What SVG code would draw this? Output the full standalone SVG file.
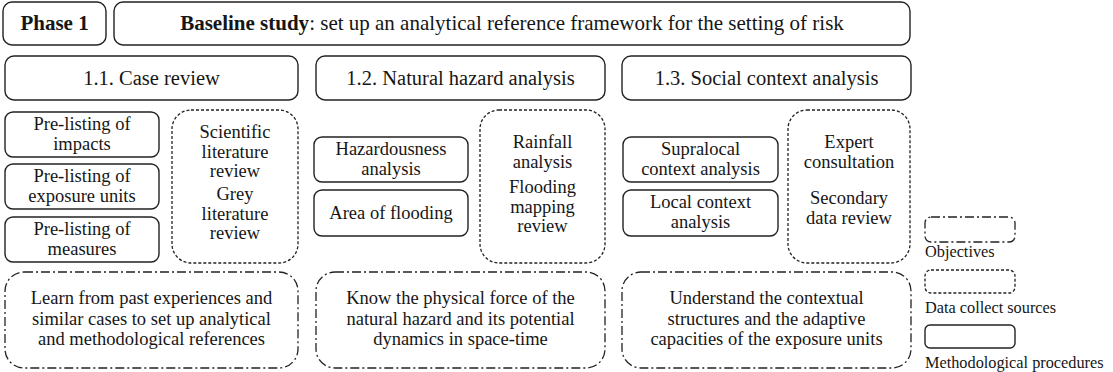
<svg xmlns="http://www.w3.org/2000/svg" width="1113" height="372" viewBox="0 0 1113 372">
  <style>
    .box { fill: #fff; stroke: #222; stroke-width: 1.4; }
    .src { fill: #fff; stroke: #222; stroke-width: 1.3; stroke-dasharray: 3 2; }
    .obj { fill: #fff; stroke: #222; stroke-width: 1.3; stroke-dasharray: 9 3 2 3; }
    text { font-family: "Liberation Serif", "Times New Roman", serif; fill: #161616; }
    .t { font-size: 18.5px; text-anchor: middle; }
    .h { font-size: 20.5px; text-anchor: middle; }
    .ttl { font-size: 21px; text-anchor: middle; }
    .lg { font-size: 16.3px; }
    .b { font-weight: bold; }
  </style>

  <!-- Header row -->
  <g id="phase">
    <rect class="box" x="3" y="2" width="103" height="43" rx="9"/>
    <text class="ttl b" x="54.5" y="30">Phase 1</text>
  </g>
  <g id="baseline">
    <rect class="box" x="114" y="2" width="796" height="43" rx="9"/>
    <text class="ttl" x="512" y="30"><tspan class="b">Baseline study</tspan>: set up an analytical reference framework for the setting of risk</text>
  </g>

  <!-- Sub-phase headings -->
  <g id="case-review">
    <rect class="box" x="5" y="56" width="293" height="44" rx="9"/>
    <text class="h" x="151.5" y="85">1.1. Case review</text>
  </g>
  <g id="hazard-analysis">
    <rect class="box" x="316" y="56" width="289" height="44" rx="9"/>
    <text class="h" x="460.5" y="85">1.2. Natural hazard analysis</text>
  </g>
  <g id="social-analysis">
    <rect class="box" x="622" y="56" width="289" height="44" rx="9"/>
    <text class="h" x="766.5" y="85">1.3. Social context analysis</text>
  </g>

  <!-- 1.1 procedures and sources -->
  <g id="impacts">
    <rect class="box" x="5" y="112" width="154" height="45" rx="8"/>
    <text class="t" x="82" y="130">Pre-listing of</text>
    <text class="t" x="82" y="149.5">impacts</text>
  </g>
  <g id="exposure-units">
    <rect class="box" x="5" y="164" width="154" height="45" rx="8"/>
    <text class="t" x="82" y="182">Pre-listing of</text>
    <text class="t" x="82" y="201.5">exposure units</text>
  </g>
  <g id="measures">
    <rect class="box" x="5" y="217" width="154" height="45" rx="8"/>
    <text class="t" x="82" y="235">Pre-listing of</text>
    <text class="t" x="82" y="254.5">measures</text>
  </g>
  <g id="literature">
    <rect class="src" x="172" y="110" width="126" height="153" rx="19"/>
    <text class="t" x="235" y="138">Scientific</text>
    <text class="t" x="235" y="157.5">literature</text>
    <text class="t" x="235" y="177">review</text>
    <text class="t" x="235" y="200">Grey</text>
    <text class="t" x="235" y="219.5">literature</text>
    <text class="t" x="235" y="239">review</text>
  </g>

  <!-- 1.2 procedures and sources -->
  <g id="hazardousness">
    <rect class="box" x="314" y="137" width="154" height="45" rx="8"/>
    <text class="t" x="391" y="155">Hazardousness</text>
    <text class="t" x="391" y="174.5">analysis</text>
  </g>
  <g id="flooding-area">
    <rect class="box" x="314" y="190" width="154" height="46" rx="8"/>
    <text class="t" x="391" y="218.5">Area of flooding</text>
  </g>
  <g id="rainfall">
    <rect class="src" x="480" y="110" width="125" height="153" rx="19"/>
    <text class="t" x="542.5" y="148">Rainfall</text>
    <text class="t" x="542.5" y="167.5">analysis</text>
    <text class="t" x="542.5" y="193">Flooding</text>
    <text class="t" x="542.5" y="212.5">mapping</text>
    <text class="t" x="542.5" y="232">review</text>
  </g>

  <!-- 1.3 procedures and sources -->
  <g id="supralocal">
    <rect class="box" x="623" y="137" width="155" height="45" rx="8"/>
    <text class="t" x="700.5" y="155">Supralocal</text>
    <text class="t" x="700.5" y="174.5">context analysis</text>
  </g>
  <g id="local">
    <rect class="box" x="623" y="190" width="155" height="46" rx="8"/>
    <text class="t" x="700.5" y="208">Local context</text>
    <text class="t" x="700.5" y="227.5">analysis</text>
  </g>
  <g id="experts">
    <rect class="src" x="788" y="110" width="122" height="153" rx="19"/>
    <text class="t" x="849" y="148">Expert</text>
    <text class="t" x="849" y="167.5">consultation</text>
    <text class="t" x="849" y="204">Secondary</text>
    <text class="t" x="849" y="223.5">data review</text>
  </g>

  <!-- Objectives -->
  <g id="objective-case">
    <rect class="obj" x="5" y="272" width="293" height="96" rx="19"/>
    <text class="t" x="151.5" y="304">Learn from past experiences and</text>
    <text class="t" x="151.5" y="324.5">similar cases to set up analytical</text>
    <text class="t" x="151.5" y="345">and methodological references</text>
  </g>
  <g id="objective-hazard">
    <rect class="obj" x="316" y="272" width="289" height="96" rx="19"/>
    <text class="t" x="460.5" y="304">Know the physical force of the</text>
    <text class="t" x="460.5" y="324.5">natural hazard and its potential</text>
    <text class="t" x="460.5" y="345">dynamics in space-time</text>
  </g>
  <g id="objective-social">
    <rect class="obj" x="622" y="272" width="289" height="96" rx="19"/>
    <text class="t" x="766.5" y="304">Understand the contextual</text>
    <text class="t" x="766.5" y="324.5">structures and the adaptive</text>
    <text class="t" x="766.5" y="345">capacities of the exposure units</text>
  </g>

  <!-- Legend -->
  <g id="legend-objectives">
    <rect class="obj" x="925" y="217" width="90" height="25" rx="6"/>
    <text class="lg" x="925" y="257">Objectives</text>
  </g>
  <g id="legend-sources">
    <rect class="src" x="925" y="270" width="90" height="23" rx="6"/>
    <text class="lg" x="925" y="313">Data collect sources</text>
  </g>
  <g id="legend-procedures">
    <rect class="box" x="925" y="325" width="90" height="23" rx="5"/>
    <text class="lg" x="925" y="368">Methodological procedures</text>
  </g>
</svg>
